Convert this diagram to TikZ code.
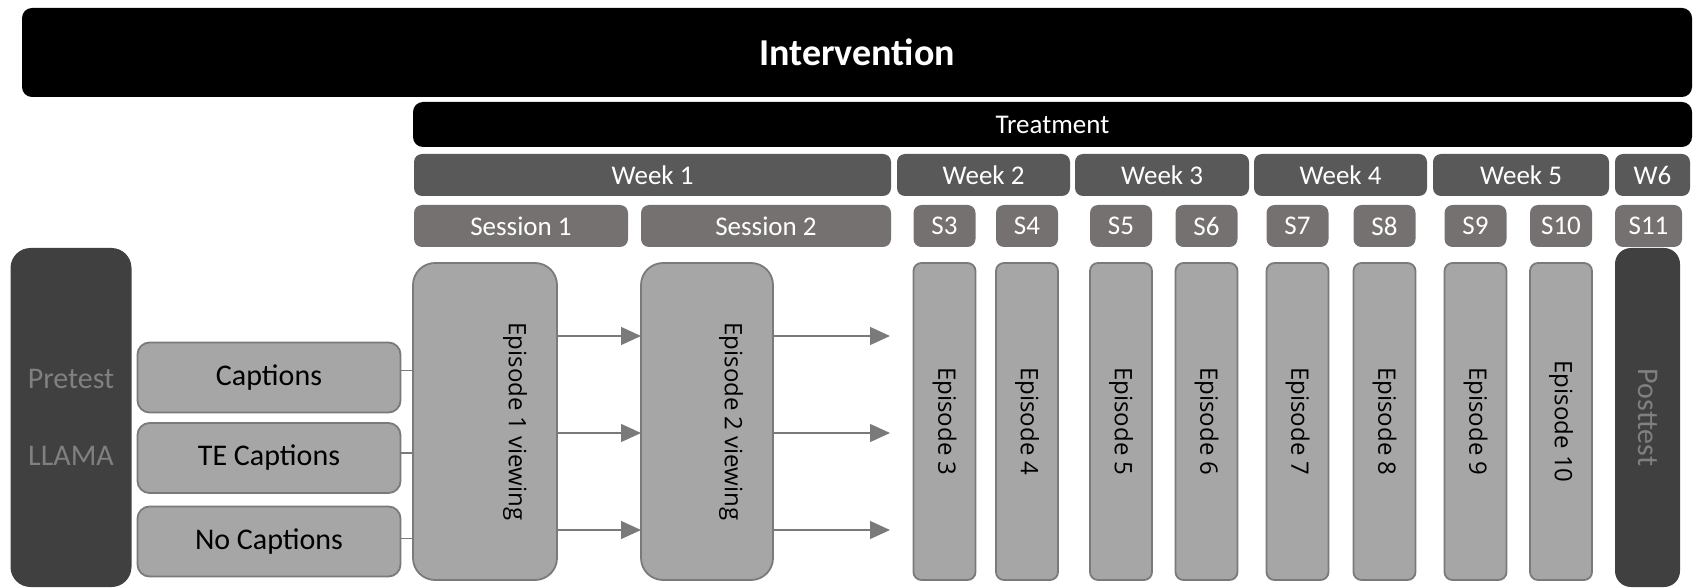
\documentclass[tikz,border=0pt]{standalone}
\usepackage{fontspec}
\setmainfont{Carlito}
\newfontfamily\epfont{Open Sans}
\usetikzlibrary{arrows.meta}
\definecolor{weekgray}{HTML}{595959}
\definecolor{sessgray}{HTML}{767171}
\definecolor{boxgray}{HTML}{A6A6A6}
\definecolor{edgegray}{HTML}{7A7A7A}
\definecolor{testgray}{HTML}{404040}
\definecolor{testtext}{HTML}{808080}

\begin{document}
\begin{tikzpicture}[x=0.5pt, y=-0.5pt,
    every node/.style={inner sep=0pt, outer sep=0pt},
    bar/.style={fill=black, text=white, rounded corners=5pt},
    weekbox/.style={fill=weekgray, text=white, rounded corners=4pt, minimum height=21pt, font=\fontsize{13.5}{16}\selectfont},
    sessbox/.style={fill=sessgray, text=white, rounded corners=4pt, minimum height=21pt, font=\fontsize{13.5}{16}\selectfont},
    bigep/.style={draw=edgegray, line width=0.9pt, fill=boxgray, rounded corners=11pt, minimum width=#1, minimum height=158.5pt},
    epbox/.style={draw=edgegray, line width=0.9pt, fill=boxgray, rounded corners=4pt, rotate=-90, minimum width=158.5pt, minimum height=31pt, font=\epfont\fontsize{12}{14}\selectfont},
    eptext/.style={rotate=-90, font=\epfont\fontsize{12}{14}\selectfont},
    testbox/.style={fill=testgray, text=testtext, font=\fontsize{15}{38.5}\selectfont},
    condbox/.style={draw=edgegray, line width=0.9pt, fill=boxgray, rounded corners=6pt, minimum width=131.5pt, minimum height=35pt, font=\fontsize{15}{18}\selectfont},
    arr/.style={draw=edgegray, line width=0.7pt, -{Triangle[length=10pt, width=9pt]}},
    link/.style={draw=edgegray, line width=0.6pt}]
    \useasboundingbox (0,0) rectangle (1698,588);
    % header bars
    \node[bar, minimum width=835pt, minimum height=44.5pt, font=\bfseries\fontsize{19}{22}\selectfont] (Interv) at (857,52.5) {Intervention};
    \node[bar, minimum width=639.5pt, minimum height=22.5pt, font=\fontsize{13.5}{16}\selectfont] (Treat) at (1052.5,124.5) {Treatment};
    \node[weekbox, minimum width=238.5pt] (Week1) at (652.5,175) {Week 1};
    \node[weekbox, minimum width=86.5pt] (Week2) at (983.5,175) {Week 2};
    \node[weekbox, minimum width=87pt] (Week3) at (1162,175) {Week 3};
    \node[weekbox, minimum width=86.5pt] (Week4) at (1340.5,175) {Week 4};
    \node[weekbox, minimum width=88pt] (Week5) at (1521,175) {Week 5};
    \node[weekbox, minimum width=37.5pt] (Week6) at (1652.5,175) {W6};
    \node[sessbox, minimum width=107pt] (S1) at (521,226) {Session 1};
    \node[sessbox, minimum width=125pt] (S2) at (766,226) {Session 2};
    \node[sessbox, minimum width=33.5pt] (S11) at (1648.5,226) {S11};
    % pretest and groups
    \node[testbox, rounded corners=10pt, align=center, minimum width=60.5pt, minimum height=169.5pt] (Pre) at (71,417.5) {Pretest\\LLAMA};
    \node[condbox] (Capt) at (269,377.5) {Captions};
    \node[condbox] (TECapt) at (269,458) {TE Captions};
    \node[condbox] (NoCapt) at (269,541.5) {No Captions};
    % episodes
    \node[bigep=72pt] (Ep1) at (485,421.5) {};
    \node[bigep=66pt] (Ep2) at (707,421.5) {};
    \node[eptext, anchor=north] (Ep1txt) at ([xshift=-15pt]Ep1.east) {Episode 1 viewing};
    \node[eptext, anchor=north] (Ep2txt) at ([xshift=-15pt]Ep2.east) {Episode 2 viewing};
    \foreach \n/\cx in {3/944.5, 4/1027, 5/1121, 6/1206.5, 7/1297.5, 8/1384.5, 9/1475.5, 10/1561} {
        \node[sessbox, minimum width=31pt] (S\n) at (\cx,226) {S\n};
        \node[epbox] (Ep\n) at (\cx,421.5) {Episode \n};
    }
    \node[testbox, rounded corners=8pt, rotate=-90, minimum width=169.5pt, minimum height=32.5pt] (Post) at (1647.5,417.5) {Posttest};
    % connectors
    \draw[link] ([yshift=3.5pt]Capt.east) -- ([yshift=3.5pt]Capt.east -| Ep1.west);
    \draw[link] ([yshift=2.5pt]TECapt.east) -- ([yshift=2.5pt]TECapt.east -| Ep1.west);
    \draw[link] ([yshift=1.5pt]NoCapt.east) -- ([yshift=1.5pt]NoCapt.east -| Ep1.west);
    \coordinate (ArrEnd) at (890,421.5);
    \foreach \dy in {42.75,-5.75,-54.25} {
        \draw[arr] ([yshift=\dy pt]Ep1.east) -- ([yshift=\dy pt]Ep2.west);
        \draw[arr] ([yshift=\dy pt]Ep2.east) -- ([yshift=\dy pt]ArrEnd);
    }
\end{tikzpicture}
\end{document}
